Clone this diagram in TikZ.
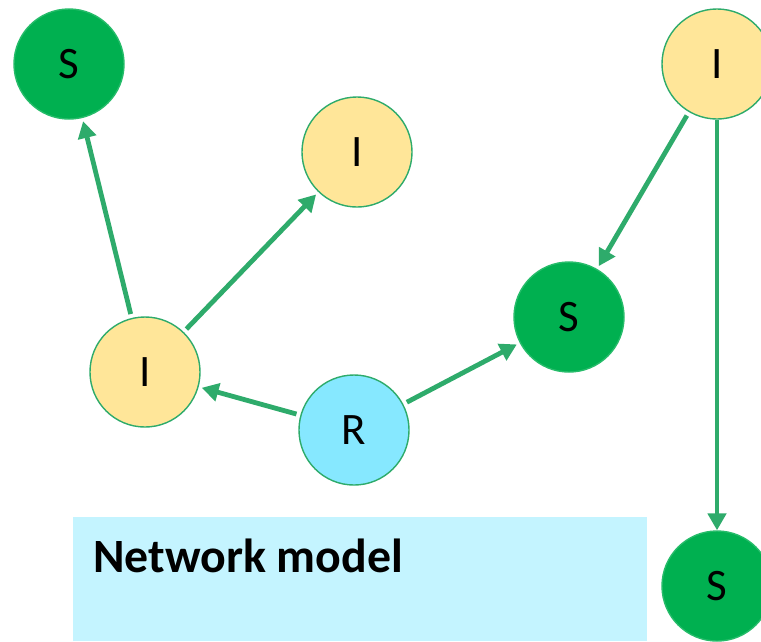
\documentclass[tikz,border=0pt]{standalone}
\usepackage{fontspec}
\setmainfont{Carlito}
\usetikzlibrary{positioning,arrows.meta}

\definecolor{linkgreen}{RGB}{46,171,107}
\definecolor{susgreen}{RGB}{0,176,80}
\definecolor{infyellow}{RGB}{255,230,153}
\definecolor{recblue}{RGB}{134,232,255}
\definecolor{boxblue}{RGB}{196,244,255}

\begin{document}
\begin{tikzpicture}[x=0.025cm, y=-0.025cm,
state/.style={circle, draw=linkgreen, line width=1pt, minimum size=2.75cm, inner sep=0pt, font=\fontsize{32}{32}\selectfont},
susceptible/.style={state, fill=susgreen, draw=susgreen!85!white},
infected/.style={state, fill=infyellow},
recovered/.style={state, fill=recblue},
link/.style={draw=linkgreen, line width=0.12cm, -{Triangle[length=0.42cm, width=0.45cm]}, shorten <=0.1cm, shorten >=0.08cm},
]
\useasboundingbox (0,0) rectangle (761,641);
\clip (0,0) rectangle (761,641);

% label box
\fill[boxblue] (73,517) rectangle (647,641);
\node[anchor=base west, inner sep=0pt, font=\fontsize{34}{34}\selectfont\bfseries](caption) at (93,572) {Network model};

% \node[type](name) at (x,y) {state}
\node[susceptible](stopleft) at (69,64) {S};
\node[infected](itopmid) at (357,152) {I};
\node[infected](itopright) at (717,64) {I};
\node[susceptible](smid) at (569,317) {S};
\node[infected](ileft) at (145,372) {I};
\node[recovered](rmid) at (354,430) {R};
\node[susceptible](sbottom) at (717,586) {S};

% \draw[link] (from) -- (to)
\draw[link] (ileft) -- (stopleft);
\draw[link] (ileft) -- (itopmid);
\draw[link] (rmid) -- (ileft);
\draw[link] (rmid) -- (smid);
\draw[link] (itopright) -- (smid);
\draw[link, shorten <=0pt, shorten >=0pt] (itopright) -- (sbottom);

\end{tikzpicture}
\end{document}
